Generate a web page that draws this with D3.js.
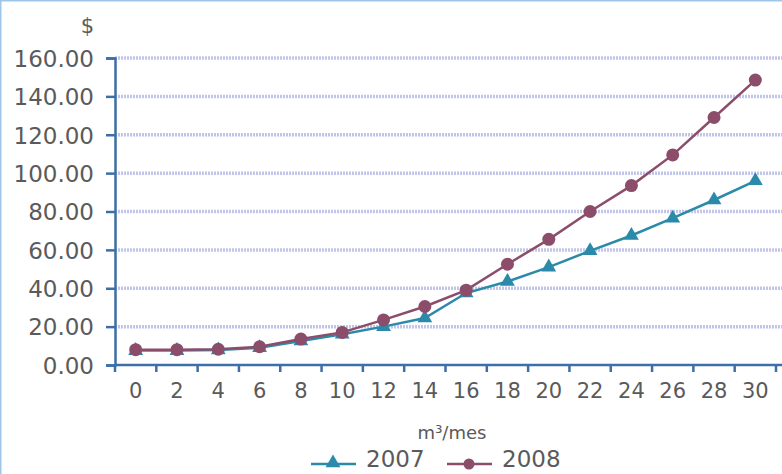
<!DOCTYPE html>
<html><head><meta charset="utf-8">
<script src="https://cdn.jsdelivr.net/npm/d3@7/dist/d3.min.js"></script>
<style>body{margin:0;background:#fff}svg{display:block}</style>
</head><body>
<svg id="c" width="782" height="474"></svg>
<script>
const categories = [0,2,4,6,8,10,12,14,16,18,20,22,24,26,28,30];
const values2007 = [7.5,7.5,7.8,9,12.5,16,20,24.5,37.5,43.5,51,59.5,67.5,76.5,86,96];
const values2008 = [8,8,8.2,9.5,13.5,17,23.5,30.5,39,52.5,65.5,80,93.5,109.5,129,148.5];
const yTicks = [0,20,40,60,80,100,120,140,160];
const seriesNames = ["2007","2008"];

const svg = d3.select("#c");
const W = 782, H = 474;
const mLeft = 115, mRight = 776, mTop = 58, mBottom = 365;
const font = "DejaVu Sans";
const textCol = "#5a5a5a";
const axisCol = "#3d6fa6";
const c2007 = "#2b8aa9", c2008 = "#8c4d6b";

// border
svg.append("rect").attr("x",0.75).attr("y",0.75).attr("width",W+4).attr("height",H+4)
  .attr("fill","none").attr("stroke","#9fc6e8").attr("stroke-width",1.5);

const x = d3.scaleBand().domain(categories).range([mLeft, mRight]).paddingInner(0).paddingOuter(0);
const y = d3.scaleLinear().domain([0,160]).range([mBottom, mTop]);

// gridlines
svg.append("g").selectAll("line").data(yTicks.filter(d=>d>0)).join("line")
  .attr("x1",mLeft).attr("x2",W).attr("y1",d=>y(d)).attr("y2",d=>y(d))
  .attr("stroke","#c2c5ea").attr("stroke-width",3.5).attr("stroke-dasharray","2,1");

// y axis
const yAxis = svg.append("g").attr("transform",`translate(${mLeft},0)`)
  .call(d3.axisLeft(y).tickValues(yTicks).tickFormat(d3.format(".2f")).tickSize(9).tickPadding(12));
yAxis.select(".domain").attr("stroke",axisCol).attr("stroke-width",2.5);
yAxis.selectAll(".tick line").attr("stroke",axisCol).attr("stroke-width",2.5);
yAxis.selectAll("text").attr("font-family",font).attr("font-size",23).attr("fill",textCol)
  .attr("dy","0.36em");

// x axis
const xAxis = svg.append("g").attr("transform",`translate(0,${mBottom})`)
  .call(d3.axisBottom(x).tickSize(0).tickPadding(18));
xAxis.select(".domain").attr("stroke",axisCol).attr("stroke-width",2.5).attr("d",`M${mLeft},0H${W}`);
xAxis.selectAll("text").attr("font-family",font).attr("font-size",21).attr("fill",textCol);
// ticks between categories
svg.append("g").selectAll("line").data(categories).join("line")
  .attr("x1",d=>x(d)).attr("x2",d=>x(d)).attr("y1",mBottom).attr("y2",mBottom+7)
  .attr("stroke",axisCol).attr("stroke-width",2.5);
svg.append("line").attr("x1",mRight).attr("x2",mRight).attr("y1",mBottom).attr("y2",mBottom+7)
  .attr("stroke",axisCol).attr("stroke-width",2.5);

// axis titles
svg.append("text").attr("x",94).attr("y",33).attr("text-anchor","end")
  .attr("font-family",font).attr("font-size",21).attr("fill",textCol).text("$");
svg.append("text").attr("x",452).attr("y",439).attr("text-anchor","middle")
  .attr("font-family",font).attr("font-size",18).attr("fill",textCol).text("m³/mes");

const cx = d => x(d) + x.bandwidth()/2;
const line = d3.line().x((d,i)=>cx(categories[i])).y(d=>y(d));

// 2007
svg.append("path").datum(values2007).attr("d",line).attr("fill","none")
  .attr("stroke",c2007).attr("stroke-width",2.5);
const tri = d3.symbol().type(d3.symbolTriangle).size(95);
svg.append("g").selectAll("path").data(values2007).join("path")
  .attr("d",tri).attr("transform",(d,i)=>`translate(${cx(categories[i])},${y(d)})`)
  .attr("fill",c2007);

// 2008
svg.append("path").datum(values2008).attr("d",line).attr("fill","none")
  .attr("stroke",c2008).attr("stroke-width",2.5);
svg.append("g").selectAll("circle").data(values2008).join("circle")
  .attr("cx",(d,i)=>cx(categories[i])).attr("cy",d=>y(d)).attr("r",6.5)
  .attr("fill",c2008);

// legend
const lg = svg.append("g");
const items = [{name:seriesNames[0],col:c2007,x0:311,type:"tri"},{name:seriesNames[1],col:c2008,x0:447,type:"circ"}];
items.forEach(it=>{
  lg.append("line").attr("x1",it.x0).attr("x2",it.x0+45).attr("y1",464).attr("y2",464)
    .attr("stroke",it.col).attr("stroke-width",2.5);
  if(it.type==="tri") lg.append("path").attr("d",tri).attr("transform",`translate(${it.x0+22},463)`).attr("fill",it.col);
  else lg.append("circle").attr("cx",it.x0+22).attr("cy",464).attr("r",5.5).attr("fill",it.col);
  lg.append("text").attr("x",it.x0+55).attr("y",467).attr("font-family",font).attr("font-size",23)
    .attr("fill",textCol).text(it.name);
});
</script>
</body></html>
